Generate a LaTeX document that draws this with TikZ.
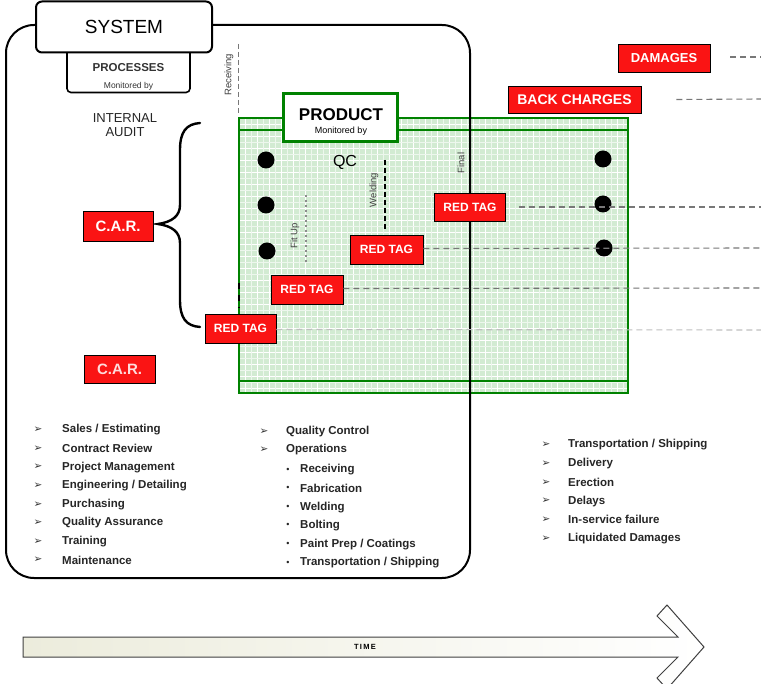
\documentclass[tikz,border=0pt]{standalone}
\usepackage{fontspec}
\setmainfont{Liberation Sans}
\newfontfamily\djfont{DejaVu Sans}
\usetikzlibrary{calc}
\definecolor{tagred}{RGB}{250,20,20}
\definecolor{prodgreen}{RGB}{0,130,0}
\definecolor{lightgreen}{RGB}{210,235,210}
\definecolor{dashgrey}{RGB}{120,120,120}
\definecolor{arrowfill}{RGB}{236,236,220}
\tikzset{
  redbox/.style={draw=black, line width=0.9pt, fill=tagred, text=white, font=\bfseries\fontsize{12}{14}\selectfont, inner sep=0pt},
  tagbox/.style={redbox, minimum width=71pt, minimum height=28pt},
  outline/.style={draw=black, line width=2pt},
  dot/.style={circle, fill=black, inner sep=0pt, minimum size=17pt},
  tagline/.style={dashgrey, line width=1.1pt, dash pattern=on 6pt off 4pt},
  rottext/.style={rotate=90, text=black!75, font=\fontsize{9.5}{10}\selectfont, inner sep=0pt},
  listtxt/.style={anchor=west, font=\bfseries\fontsize{11.5}{13}\selectfont, inner sep=0pt, text=black!85},
  arrbullet/.style={anchor=center, font=\djfont\fontsize{10.5}{11}\selectfont, inner sep=0pt, text=black!80},
  smbullet/.style={anchor=center, font=\fontsize{9}{9}\selectfont, inner sep=0pt, text=black!85},
}
\begin{document}
\begin{tikzpicture}[x=1pt,y=-1pt]
\useasboundingbox (0,0) rectangle (761,684);
\fill[white] (0,0) rectangle (761,684);

% green product area
\fill[lightgreen] (239,118) rectangle (628,393);
\begin{scope}
\clip (239,118) rectangle (628,393);
\foreach \gx in {245,257,...,630} \draw[white, line width=0.7pt] (\gx,118) -- (\gx,393);
\foreach \gy in {124,136,...,393} \draw[white, line width=0.7pt] (239,\gy) -- (628,\gy);
\foreach \gx in {251,263,...,630} \draw[white!60!lightgreen, line width=0.4pt] (\gx,118) -- (\gx,393);
\foreach \gy in {130,142,...,393} \draw[white!60!lightgreen, line width=0.4pt] (239,\gy) -- (628,\gy);
\end{scope}
\draw[prodgreen, line width=2.8pt] (239,118) rectangle (628,393);
\draw[prodgreen, line width=2.4pt] (239,130) -- (628,130);
\draw[prodgreen, line width=2.4pt] (239,381) -- (628,381);

% system outline
\draw[outline, rounded corners=28pt] (213,25) -- (470,25) -- (470,578) -- (6,578) -- (6,25) -- (40,25);

% SYSTEM / PROCESSES boxes
\node[draw=black, line width=1.6pt, fill=white, rounded corners=4pt, minimum width=123pt, minimum height=45pt, inner sep=0pt] (proc) at (128.5,70) {};
\node[font=\bfseries\fontsize{11.5}{12}\selectfont, text=black!80, inner sep=0pt] (proct) at (128.5,68) {PROCESSES};
\node[font=\fontsize{8.5}{9}\selectfont, text=black!80, inner sep=0pt] (procm) at (128.5,86) {Monitored by};
\node[draw=black, line width=2pt, fill=white, rounded corners=6pt, minimum width=176pt, minimum height=51pt, inner sep=0pt, font=\fontsize{19}{21}\selectfont] (sys) at (124,27) {SYSTEM};

\node[font=\fontsize{13}{15}\selectfont, align=center, inner sep=0pt, text=black!85] (audit) at (125,125) {INTERNAL\\[-1pt]AUDIT};

% PRODUCT box
\node[draw=prodgreen, line width=2.8pt, fill=white, minimum width=114pt, minimum height=48pt, inner sep=0pt] (prod) at (340.5,117.5) {};
\node[font=\bfseries\fontsize{17}{19}\selectfont, inner sep=0pt] (prodt) at (341,115) {PRODUCT};
\node[font=\fontsize{9}{10}\selectfont, inner sep=0pt] (prodm) at (341,131) {Monitored by};

% receiving marker
\draw[dashgrey, line width=0.9pt, dash pattern=on 5pt off 3pt] (238,44) -- (238,114);
\node[rottext] (recv) at (229,75) {Receiving};

% QC and markers
\node[font=\fontsize{16}{18}\selectfont, inner sep=0pt] (qc) at (345,162) {QC};
\draw[black, line width=1.6pt, dash pattern=on 5pt off 3pt] (385,160) -- (385,230);
\node[rottext] (weld) at (374,190) {Welding};
\draw[black!45, line width=1.2pt, dash pattern=on 2pt off 3pt] (306,195) -- (306,263);
\node[rottext] (fitup) at (295,236) {Fit Up};
\node[rottext] (final) at (461,163) {Final};
\draw[black, line width=1.5pt, dash pattern=on 6pt off 6pt] (239,283) -- (239,308);

% dots
\node[dot] (d1) at (266,160) {};
\node[dot] (d2) at (266,205) {};
\node[dot] (d3) at (267,251) {};
\node[dot] (d4) at (603,159) {};
\node[dot] (d5) at (603,204) {};
\node[dot] (d6) at (604,248) {};

% brace
\draw[black, line width=2.4pt, line cap=round]
  (200,123) .. controls (186,124) and (180,132) .. (180,150) -- (180,205)
  .. controls (180,216) and (172,222) .. (158,224)
  .. controls (172,226) and (180,232) .. (180,243) -- (180,300)
  .. controls (180,318) and (186,326) .. (200,327);

% tags
\node[tagbox] (rt1) at (470,207) {RED TAG};
\node[tagbox, minimum width=73pt, minimum height=29pt] (rt2) at (386.5,249.5) {RED TAG};
\node[tagbox, minimum width=72pt, minimum height=29pt] (rt3) at (307,289.5) {RED TAG};
\node[tagbox, minimum width=71pt, minimum height=29pt] (rt4) at (240.5,328.5) {RED TAG};
\node[redbox, minimum width=70pt, minimum height=30pt, font=\bfseries\fontsize{15}{17}\selectfont] (car1) at (118,226) {C.A.R.};
\node[redbox, minimum width=71pt, minimum height=28pt, font=\bfseries\fontsize{15}{17}\selectfont, text=white!85!tagred] (car2) at (119.5,369) {C.A.R.};
\node[redbox, minimum width=92pt, minimum height=28pt, font=\bfseries\fontsize{13}{15}\selectfont] (dmg) at (664,58) {DAMAGES};
\node[redbox, minimum width=133pt, minimum height=27pt, font=\bfseries\fontsize{14}{16}\selectfont] (back) at (574.5,99.5) {BACK CHARGES};

% dashed consequence lines
\coordinate (e1) at (761,57);
\coordinate (e2) at (761,99);
\coordinate (e3) at (761,207);
\coordinate (e4) at (761,248);
\coordinate (e5) at (761,288);
\coordinate (e6) at (761,330);
\draw[tagline] ($(dmg.east)+(20,-1)$) -- (e1);
\draw[tagline] ($(back.east)+(35,0)$) -- (e2);
\draw[tagline] ($(rt1.east)+(13,0)$) -- (e3);
\draw[tagline] ($(rt2.east)+(0,-1)$) -- (e4);
\draw[tagline, black!55] ($(rt3.east)+(0,-1)$) -- (e5);
\draw[tagline, black!25] ($(rt4.east)+(0,1)$) -- (e6);

% left list
\foreach \t [count=\i] in {Sales / Estimating, Contract Review, Project Management, Engineering / Detailing, Purchasing, Quality Assurance, Training, Maintenance} {
  \pgfmathsetmacro{\yy}{430+18.6*(\i-1)}
  \node[arrbullet] (lb\i) at (38,\yy) {➢};
  \node[listtxt] (lt\i) at (62,\yy) {\t};
}
% middle list
\node[arrbullet] (mb1) at (264,432) {➢};
\node[listtxt] (mt1) at (286,432) {Quality Control};
\node[arrbullet] (mb2) at (264,450) {➢};
\node[listtxt] (mt2) at (286,450) {Operations};
\foreach \t [count=\i] in {Receiving, Fabrication, Welding, Bolting, Paint Prep / Coatings, Transportation / Shipping} {
  \pgfmathsetmacro{\yy}{470+18.6*(\i-1)}
  \node[smbullet] (sb\i) at (288,\yy) {•};
  \node[listtxt] (st\i) at (300,\yy) {\t};
}
% right list
\foreach \t [count=\i] in {Transportation / Shipping, Delivery, Erection, Delays, In-service failure, Liquidated Damages} {
  \pgfmathsetmacro{\yy}{445+18.7*(\i-1)}
  \node[arrbullet] (rb\i) at (546,\yy) {➢};
  \node[listtxt] (rtx\i) at (568,\yy) {\t};
}

% time arrow
\shade[left color=arrowfill, right color=white]
  (23,637) -- (678,637) -- (657,616) -- (667,605) -- (704,647) -- (667,689) -- (657,678) -- (678,657) -- (23,657) -- cycle;
\draw[black!75, line width=1pt, line join=miter]
  (23,637) -- (678,637) -- (657,616) -- (667,605) -- (704,647) -- (667,689) -- (657,678) -- (678,657) -- (23,657) -- cycle;
\node[font=\bfseries\fontsize{7.5}{8}\selectfont, inner sep=0pt] (time) at (365,647) {T\,I\,M\,E};
\end{tikzpicture}
\end{document}
